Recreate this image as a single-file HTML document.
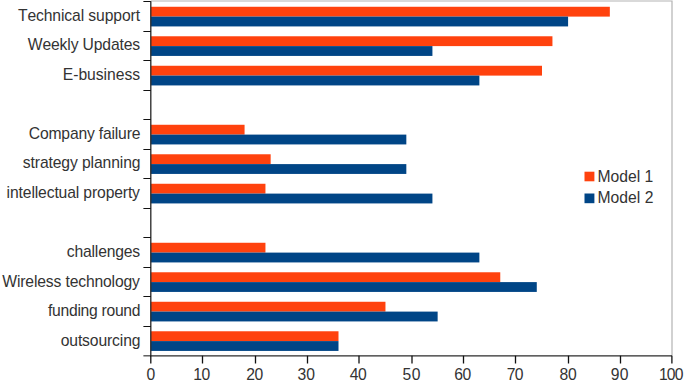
<!DOCTYPE html><html><head><meta charset="utf-8"><style>html,body{margin:0;padding:0;background:#fff;width:685px;height:381px;overflow:hidden}svg{display:block}text{font-family:"Liberation Sans",sans-serif;font-size:15.7px;fill:#333;font-kerning:none}</style></head><body>
<svg width="685" height="381" viewBox="0 0 685 381">
<path d="M150.8 1.0H672.0V355.85" fill="none" stroke="#b3b3b3" stroke-width="1.2"/>
<rect x="150.65" y="6.77" width="459.18" height="9.83" fill="#ff420e"/>
<rect x="150.65" y="16.60" width="417.44" height="9.83" fill="#004586"/>
<text x="140.02" y="21.00" text-anchor="end" textLength="122.10" lengthAdjust="spacing">Technical support</text>
<rect x="150.65" y="36.27" width="401.79" height="9.83" fill="#ff420e"/>
<rect x="150.65" y="46.10" width="281.77" height="9.83" fill="#004586"/>
<text x="140.17" y="50.00" text-anchor="end" textLength="112.42" lengthAdjust="spacing">Weekly Updates</text>
<rect x="150.65" y="65.77" width="391.35" height="9.83" fill="#ff420e"/>
<rect x="150.65" y="75.60" width="328.73" height="9.83" fill="#004586"/>
<text x="140.17" y="80.00" text-anchor="end" textLength="77.44" lengthAdjust="spacing">E-business</text>
<rect x="150.65" y="124.77" width="93.92" height="9.83" fill="#ff420e"/>
<rect x="150.65" y="134.60" width="255.68" height="9.83" fill="#004586"/>
<text x="140.42" y="139.00" text-anchor="end" textLength="111.65" lengthAdjust="spacing">Company failure</text>
<rect x="150.65" y="154.27" width="120.01" height="9.83" fill="#ff420e"/>
<rect x="150.65" y="164.10" width="255.68" height="9.83" fill="#004586"/>
<text x="140.52" y="168.00" text-anchor="end" textLength="117.71" lengthAdjust="spacing">strategy planning</text>
<rect x="150.65" y="183.77" width="114.80" height="9.83" fill="#ff420e"/>
<rect x="150.65" y="193.60" width="281.77" height="9.83" fill="#004586"/>
<text x="139.96" y="198.00" text-anchor="end" textLength="133.34" lengthAdjust="spacing">intellectual property</text>
<rect x="150.65" y="242.77" width="114.80" height="9.83" fill="#ff420e"/>
<rect x="150.65" y="252.60" width="328.73" height="9.83" fill="#004586"/>
<text x="140.17" y="257.00" text-anchor="end" textLength="73.40" lengthAdjust="spacing">challenges</text>
<rect x="150.65" y="272.27" width="349.61" height="9.83" fill="#ff420e"/>
<rect x="150.65" y="282.10" width="386.13" height="9.83" fill="#004586"/>
<text x="139.96" y="287.00" text-anchor="end" textLength="137.66" lengthAdjust="spacing">Wireless technology</text>
<rect x="150.65" y="301.77" width="234.81" height="9.83" fill="#ff420e"/>
<rect x="150.65" y="311.60" width="286.99" height="9.83" fill="#004586"/>
<text x="140.51" y="316.00" text-anchor="end" textLength="92.46" lengthAdjust="spacing">funding round</text>
<rect x="150.65" y="331.27" width="187.85" height="9.83" fill="#ff420e"/>
<rect x="150.65" y="341.10" width="187.85" height="9.83" fill="#004586"/>
<text x="140.52" y="346.00" text-anchor="end" textLength="79.82" lengthAdjust="spacing">outsourcing</text>
<text x="150.75" y="379.70" text-anchor="middle">0</text>
<text x="201.73" y="379.70" text-anchor="middle" textLength="16.84" lengthAdjust="spacing">10</text>
<text x="254.68" y="379.70" text-anchor="middle" textLength="16.89" lengthAdjust="spacing">20</text>
<text x="306.28" y="379.70" text-anchor="middle" textLength="17.39" lengthAdjust="spacing">30</text>
<text x="358.24" y="379.70" text-anchor="middle" textLength="16.92" lengthAdjust="spacing">40</text>
<text x="411.50" y="379.70" text-anchor="middle" textLength="17.87" lengthAdjust="spacing">50</text>
<text x="462.82" y="379.70" text-anchor="middle" textLength="16.90" lengthAdjust="spacing">60</text>
<text x="515.14" y="379.70" text-anchor="middle" textLength="16.55" lengthAdjust="spacing">70</text>
<text x="568.02" y="379.70" text-anchor="middle" textLength="17.28" lengthAdjust="spacing">80</text>
<text x="619.60" y="379.70" text-anchor="middle" textLength="17.64" lengthAdjust="spacing">90</text>
<text x="671.21" y="379.70" text-anchor="middle" textLength="24.37" lengthAdjust="spacing">100</text>
<path d="M150.8 1.2V355.85H672.0" fill="none" stroke="#2d2d2d" stroke-width="1.35"/>
<path d="M143.4 1.50H150.8 M143.4 31.50H150.8 M143.4 60.50H150.8 M143.4 90.50H150.8 M143.4 119.50H150.8 M143.4 149.50H150.8 M143.4 178.50H150.8 M143.4 208.50H150.8 M143.4 237.50H150.8 M143.4 267.50H150.8 M143.4 296.50H150.8 M143.4 326.50H150.8 M143.4 355.85H150.8" fill="none" stroke="#111" stroke-width="1.0"/>
<path d="M150.80 355.85V363.6 M202.50 355.85V363.6 M255.50 355.85V363.6 M307.50 355.85V363.6 M359.00 355.85V363.6 M412.00 355.85V363.6 M463.50 355.85V363.6 M515.50 355.85V363.6 M568.50 355.85V363.6 M620.50 355.85V363.6 M671.90 355.85V363.6" fill="none" stroke="#111" stroke-width="1.3"/>
<rect x="584.5" y="171.7" width="9.9" height="9.6" fill="#ff420e"/>
<rect x="584.5" y="193.5" width="9.9" height="9.7" fill="#004586"/>
<text x="597.50" y="182.00" textLength="55.67" lengthAdjust="spacing">Model 1</text>
<text x="597.50" y="203.00" textLength="55.88" lengthAdjust="spacing">Model 2</text>
</svg></body></html>
